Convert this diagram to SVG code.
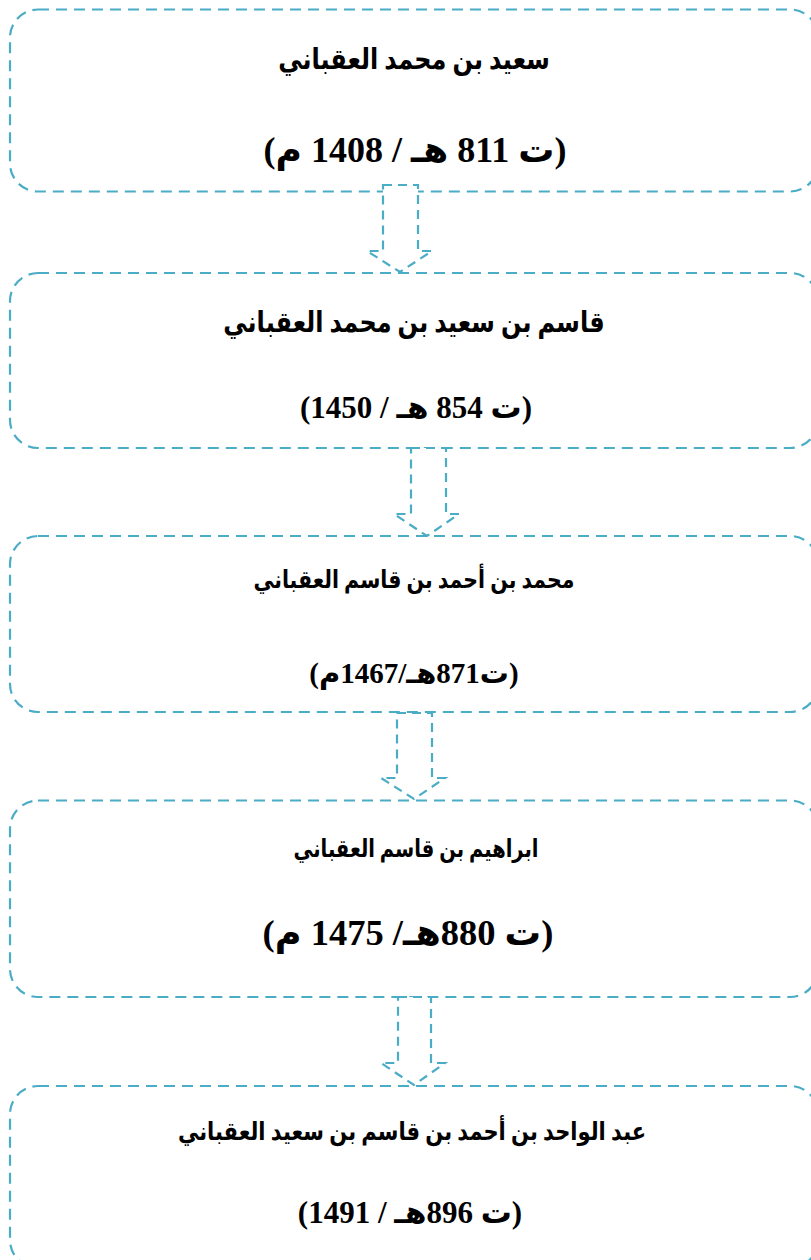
<svg xmlns="http://www.w3.org/2000/svg" width="811" height="1260" viewBox="0 0 811 1260">
<style>
.box{fill:#ffffff;stroke:#4BACC6;stroke-width:2.2;stroke-dasharray:11 7}
.arr{fill:#ffffff;stroke:#4BACC6;stroke-width:2.2;stroke-dasharray:9 6}
.t{font-family:'Liberation Serif','DejaVu Sans',serif;font-weight:bold;fill:#000;text-anchor:middle;direction:rtl}
.n{font-family:'Liberation Serif',serif}
</style>
<rect width="811" height="1260" fill="#ffffff"/>
<g id="node1">
<rect class="box" x="10" y="9.5" width="808" height="182" rx="28" ry="28"/>
<text class="t" transform="translate(414,69) scale(1,1.2)" font-size="24">سعيد بن محمد العقباني</text>
<text class="t" x="415" y="162" font-size="36"><tspan class="n">(</tspan>ت <tspan class="n">811</tspan> هـ <tspan class="n">/</tspan> <tspan class="n">1408</tspan> م<tspan class="n">)</tspan></text>
</g>
<g id="node2">
<rect class="box" x="10" y="273" width="808" height="175" rx="28" ry="28"/>
<text class="t" transform="translate(414,332) scale(1,1.2)" font-size="24">قاسم بن سعيد بن محمد العقباني</text>
<text class="t" x="416" y="418" font-size="31"><tspan class="n">(</tspan>ت <tspan class="n">854</tspan> هـ <tspan class="n">/</tspan> <tspan class="n">1450</tspan><tspan class="n">)</tspan></text>
</g>
<g id="node3">
<rect class="box" x="10" y="536" width="808" height="176" rx="28" ry="28"/>
<text class="t" transform="translate(414,588) scale(1,1.2)" font-size="20.5">محمد بن أحمد بن قاسم العقباني</text>
<text class="t" x="414" y="683" font-size="29"><tspan class="n">(</tspan>ت<tspan class="n">871</tspan>هـ<tspan class="n">/</tspan><tspan class="n">1467</tspan>م<tspan class="n">)</tspan></text>
</g>
<g id="node4">
<rect class="box" x="10" y="800.5" width="808" height="196.5" rx="28" ry="28"/>
<text class="t" transform="translate(416,857) scale(1,1.25)" font-size="19.5">ابراهيم بن قاسم العقباني</text>
<text class="t" x="408" y="945" font-size="36.5"><tspan class="n">(</tspan>ت <tspan class="n">880</tspan>هـ<tspan class="n">/</tspan> <tspan class="n">1475</tspan> م<tspan class="n">)</tspan></text>
</g>
<g id="node5">
<rect class="box" x="10" y="1086" width="808" height="182" rx="28" ry="28"/>
<text class="t" transform="translate(412,1140) scale(1,1.2)" font-size="21">عبد الواحد بن أحمد بن قاسم بن سعيد العقباني</text>
<text class="t" x="410" y="1223" font-size="31"><tspan class="n">(</tspan>ت <tspan class="n">896</tspan>هـ <tspan class="n">/</tspan> <tspan class="n">1491</tspan><tspan class="n">)</tspan></text>
</g>
<g id="connectors">
<polygon class="arr" points="383,185 418,185 418,251 432,251 400,272 367,251 383,251"/>
<polygon class="arr" points="411,448 446,448 446,514 459,514 427,536 394,514 411,514"/>
<polygon class="arr" points="397,713 432,713 432,778 445,778 414,799 381,778 397,778"/>
<polygon class="arr" points="398,997 431,997 431,1063 445,1063 414,1085 381,1063 398,1063"/>
</g>
</svg>
